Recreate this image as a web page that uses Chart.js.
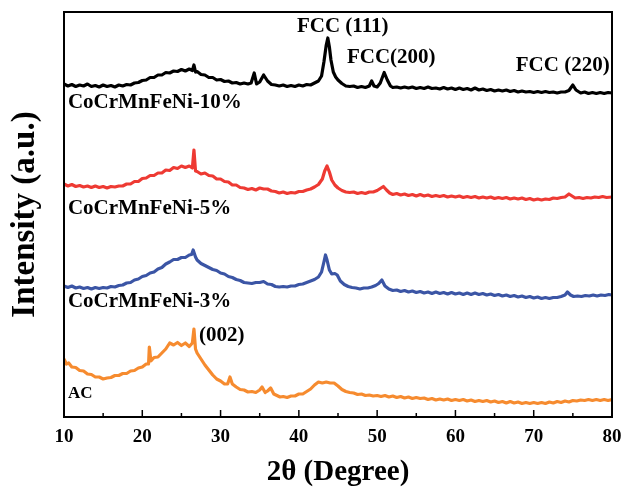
<!DOCTYPE html>
<html>
<head>
<meta charset="utf-8">
<script src="https://cdn.jsdelivr.net/npm/chart.js@4.4.1/dist/chart.umd.min.js"></script>
<style>
    html, body { margin: 0; padding: 0; background: #fff; }
    #wrap { width: 622px; height: 488px; }
</style>
</head>
<body>
<div id="wrap"><canvas id="xrdChart" width="622" height="488"></canvas></div>
<script>
// XRD patterns, [2theta, intensity (a.u., curves stacked)]
const sampleNames = ['CoCrMnFeNi-10%', 'CoCrMnFeNi-5%', 'CoCrMnFeNi-3%', 'AC'];
const sampleColors = ['#000000', '#ee3a33', '#3b55a5', '#f68b2f'];

const xrd10 = [
    [10.0,333],[10.5,331],[11.0,332.5],[11.5,330.5],[12.0,332],[12.5,331],[13.0,333],[13.5,330.5],[14.0,331.5],[14.5,330],
    [15.0,332],[15.5,330.5],[16.0,331.5],[16.5,330],[17.0,332],[17.5,331],[18.0,332.5],[18.5,332],[19.0,334],[19.5,334.5],
    [20.0,336.5],[20.5,337],[21.0,339.5],[21.5,339.5],[22.0,342],[22.5,342],[23.0,344.5],[23.5,344],[24.0,346],[24.5,345.5],
    [25.0,347.5],[25.5,346],[26.0,348],[26.4,346.5],[26.6,352],[26.8,345],[27.0,345.5],[27.5,342.5],[28.0,342],[28.5,339.5],
    [29.0,339.5],[29.5,337],[30.0,337.5],[30.5,335.5],[31.0,336],[31.5,334],[32.0,334.5],[32.5,333],[33.0,334],[33.5,333],
    [33.9,334],[34.3,344],[34.6,333],[35.0,335],[35.5,342],[36.0,336],[36.5,332.5],[37.0,332],[37.5,331],[38.0,332],
    [38.5,330.5],[39.0,331.5],[39.5,330.5],[40.0,332],[40.5,331],[41.0,332.5],[41.5,332],[42.0,334],[42.5,336],[42.9,341],
    [43.2,355],[43.5,372],[43.7,379],[43.9,370],[44.1,357],[44.4,345],[44.7,340],[45.0,337],[45.5,333.5],[46.0,331],
    [46.5,330.5],[47.0,331],[47.5,329.5],[48.0,330.5],[48.5,329.5],[49.0,331],[49.3,336],[49.6,331],[50.0,330],[50.4,334],
    [50.9,344.5],[51.3,337],[51.7,331],[52.0,329.5],[52.5,330],[53.0,329],[53.5,330],[54.0,329],[54.5,330],[55.0,328.5],
    [55.5,329.5],[56.0,328.5],[56.5,330],[57.0,328.5],[57.5,329],[58.0,328],[58.5,329.5],[59.0,328],[59.5,329],[60.0,327.5],
    [60.5,329],[61.0,327.5],[61.5,328.5],[62.0,327],[62.5,329],[63.0,327],[63.5,328],[64.0,326.5],[64.5,327.5],[65.0,326],
    [65.5,327],[66.0,326],[66.5,327],[67.0,325.5],[67.5,326.5],[68.0,325],[68.5,326],[69.0,325],[69.5,325.5],[70.0,324.5],
    [70.5,325.5],[71.0,324.5],[71.5,325.5],[72.0,324.5],[72.5,325],[73.0,324],[73.5,325],[74.0,325],[74.5,326.5],[75.0,332],
    [75.4,327],[75.8,325],[76.0,324],[76.5,325],[77.0,323.5],[77.5,324.5],[78.0,323.5],[78.5,324.5],[79.0,323.5],[79.5,324.5],
    [80.0,324]
];

const xrd5 = [
    [10.0,233],[10.5,231],[11.0,232.5],[11.5,230.5],[12.0,231.5],[12.5,230],[13.0,231],[13.5,229.5],[14.0,231],[14.5,229.5],
    [15.0,230.5],[15.5,229],[16.0,230.5],[16.5,230],[17.0,231],[17.5,231],[18.0,233],[18.5,233],[19.0,235.5],[19.5,235.5],
    [20.0,238.5],[20.5,239],[21.0,241.5],[21.5,241.5],[22.0,244],[22.5,244],[23.0,247],[23.5,246.5],[24.0,249.5],[24.5,248.5],
    [25.0,251],[25.5,249.5],[26.0,251],[26.4,249],[26.6,267],[26.8,246],[27.0,245.5],[27.5,243],[28.0,244],[28.5,241.5],
    [29.0,241],[29.5,238],[30.0,238],[30.5,235.5],[31.0,235],[31.5,232],[32.0,232],[32.5,229.5],[33.0,229],[33.5,227.5],
    [34.0,228.5],[34.5,227],[35.0,229],[35.5,228],[36.0,228],[36.5,226],[37.0,225.5],[37.5,224],[38.0,225],[38.5,223.5],
    [39.0,224.5],[39.5,224],[40.0,225.5],[40.5,225.5],[41.0,227],[41.5,228],[42.0,230],[42.5,232.5],[43.0,238],[43.3,246],
    [43.6,251],[43.9,245],[44.2,237],[44.6,232],[45.0,229],[45.5,226.5],[46.0,225],[46.5,224.5],[47.0,225],[47.5,223.5],
    [48.0,224.5],[48.5,223.5],[49.0,225],[49.5,225],[50.0,226.5],[50.5,229],[50.8,230.5],[51.2,227],[51.6,224],[52.0,222.5],
    [52.5,223.5],[53.0,222],[53.5,223],[54.0,221.5],[54.5,222.5],[55.0,221],[55.5,222.5],[56.0,221],[56.5,222],[57.0,220.5],
    [57.5,221.5],[58.0,220.5],[58.5,221.5],[59.0,220],[59.5,221],[60.0,220],[60.5,221],[61.0,219.5],[61.5,220.5],[62.0,219.5],
    [62.5,220.5],[63.0,219],[63.5,220],[64.0,219],[64.5,220],[65.0,218.5],[65.5,219.5],[66.0,218.5],[66.5,219.5],[67.0,218],
    [67.5,219],[68.0,218],[68.5,219],[69.0,217.5],[69.5,218.5],[70.0,217],[70.5,218],[71.0,217],[71.5,218],[72.0,217.5],
    [72.5,219],[73.0,218.5],[73.5,219.5],[74.0,220],[74.5,223],[74.9,221],[75.3,219],[75.8,219.5],[76.3,218.5],[76.8,219.5],
    [77.3,219],[77.8,220],[78.3,219.5],[78.8,220.5],[79.3,219.5],[80.0,220]
];

const xrd3 = [
    [10.0,131],[10.5,129.5],[11.0,131],[11.5,129],[12.0,130],[12.5,128.5],[13.0,129.5],[13.5,128],[14.0,129.5],[14.5,128.5],
    [15.0,129.5],[15.5,129],[16.0,130.5],[16.5,130],[17.0,131.5],[17.5,132],[18.0,134],[18.5,134.5],[19.0,137],[19.5,138],
    [20.0,140.5],[20.5,141.5],[21.0,144],[21.5,145],[22.0,148],[22.5,149.5],[23.0,153],[23.5,155],[24.0,157.5],[24.5,157.5],
    [25.0,159.5],[25.5,159.5],[26.0,162],[26.3,162.5],[26.5,167],[26.8,160],[27.0,157],[27.5,153.5],[28.0,151.5],[28.5,149.5],
    [29.0,147.5],[29.5,146.5],[30.0,144],[30.5,143],[31.0,140.5],[31.5,139.5],[32.0,137.5],[32.5,136.5],[33.0,134.5],[33.5,134],
    [34.0,133.5],[34.5,134.5],[35.0,134.5],[35.5,135.5],[36.0,133],[36.5,132.5],[37.0,130.5],[37.5,130],[38.0,130.5],[38.5,130],
    [39.0,131],[39.5,131],[40.0,132.5],[40.5,133],[41.0,134.5],[41.5,136],[42.0,137.5],[42.5,140],[42.9,145],[43.2,155],
    [43.4,162],[43.6,157],[43.9,147],[44.2,143],[44.6,143.5],[44.9,142],[45.3,136],[45.8,132.5],[46.3,130.5],[46.8,129.5],
    [47.3,129],[47.8,128],[48.3,129],[48.8,129],[49.3,130],[49.8,131.5],[50.2,133.5],[50.6,137],[51.0,131],[51.5,128],
    [52.0,126.5],[52.5,127],[53.0,125.5],[53.5,126.5],[54.0,125],[54.5,126],[55.0,124.5],[55.5,125.5],[56.0,124],[56.5,125],
    [57.0,123.5],[57.5,125],[58.0,123.5],[58.5,124.5],[59.0,123],[59.5,124.5],[60.0,123],[60.5,124],[61.0,122.5],[61.5,124],
    [62.0,122.5],[62.5,124],[63.0,122.5],[63.5,123.5],[64.0,122],[64.5,123],[65.0,121.5],[65.5,122.5],[66.0,121],[66.5,122],
    [67.0,120.5],[67.5,121.5],[68.0,120],[68.5,121],[69.0,119.5],[69.5,120.5],[70.0,119],[70.5,120],[71.0,118.5],[71.5,119.5],
    [72.0,118.5],[72.5,119.5],[73.0,119.5],[73.5,120.5],[74.0,122],[74.3,125],[74.7,122],[75.1,120.5],[75.6,121],[76.1,120.5],
    [76.6,121.5],[77.1,121],[77.6,122],[78.1,121],[78.6,122],[79.1,121.5],[79.6,122.5],[80.0,122]
];

const xrdAC = [
    [10.0,58],[10.3,53],[10.6,54],[11.0,50],[11.5,49.5],[12.0,46.5],[12.5,46],[13.0,43],[13.5,42.5],[14.0,40],
    [14.5,40],[15.0,38],[15.5,39],[16.0,39.5],[16.5,41.5],[17.0,41.5],[17.5,43.5],[18.0,43.5],[18.5,46],[19.0,46.5],
    [19.5,49],[20.0,50],[20.5,53],[20.8,53],[20.9,70],[21.1,56],[21.5,59.5],[22.0,60],[22.5,64],[23.0,68],
    [23.5,74],[24.0,72],[24.5,74.5],[25.0,71.5],[25.5,74],[26.0,70.5],[26.4,74],[26.6,88],[26.8,68],[27.0,64],
    [27.5,58],[28.0,52],[28.5,47],[29.0,42],[29.5,38],[30.0,36],[30.5,33],[30.9,33],[31.2,40],[31.5,33],
    [32.0,30],[32.5,27.5],[33.0,27],[33.5,25],[34.0,25.5],[34.5,24.5],[35.0,27],[35.3,30],[35.7,24.5],[36.0,26],
    [36.4,29],[36.8,23],[37.2,21.5],[37.6,20],[38.0,20.5],[38.5,19.5],[39.0,21],[39.5,21],[40.0,23],[40.5,23],
    [41.0,25.5],[41.5,28],[42.0,32],[42.5,35],[43.0,34],[43.5,35],[44.0,34],[44.5,34],[45.0,31],[45.5,27.5],
    [46.0,25.5],[46.5,24.5],[47.0,24],[47.5,22.5],[48.0,23],[48.5,21.5],[49.0,22],[49.5,21],[50.0,21.5],[50.5,20.5],
    [51.0,21.5],[51.5,20],[52.0,21],[52.5,19.5],[53.0,20.5],[53.5,19],[54.0,20],[54.5,18.5],[55.0,19.5],[55.5,18.5],
    [56.0,19],[56.5,17.5],[57.0,18.5],[57.5,17],[58.0,18],[58.5,17],[59.0,18],[59.5,16.5],[60.0,17.5],[60.5,16.5],
    [61.0,17.5],[61.5,16],[62.0,17],[62.5,15.5],[63.0,16.5],[63.5,15.5],[64.0,16.5],[64.5,15],[65.0,16],[65.5,14.5],
    [66.0,15.5],[66.5,14],[67.0,15.5],[67.5,14],[68.0,15],[68.5,13.5],[69.0,14.5],[69.5,13.5],[70.0,14.5],[70.5,13.5],
    [71.0,14.5],[71.5,13.5],[72.0,15],[72.5,14],[73.0,15.5],[73.5,14.5],[74.0,16],[74.5,15],[75.0,16.5],[75.5,16],
    [76.0,17],[76.5,16.5],[77.0,17.5],[77.5,16.5],[78.0,17.5],[78.5,16.5],[79.0,17.5],[79.5,16.5],[80.0,17.5]
];

const xTicks = [10, 20, 30, 40, 50, 60, 70, 80];

// peak / sample labels: [text, 2theta, intensity, align, size]
const annotations = [
    ['FCC (111)', 45.6, 390, 'center', 21],
    ['FCC(200)', 51.8, 359, 'center', 21],
    ['FCC (220)', 73.7, 351, 'center', 21],
    ['(002)', 27.25, 81, 'left', 21],
    ['CoCrMnFeNi-10%', 10.5, 314, 'left', 21],
    ['CoCrMnFeNi-5%', 10.5, 208, 'left', 21],
    ['CoCrMnFeNi-3%', 10.5, 115, 'left', 21],
    ['AC', 10.5, 23, 'left', 17]
];

const serif = "'Liberation Serif', 'Times New Roman', serif";

function toPoints(rows) {
    return rows.map(r => ({ x: r[0], y: r[1] }));
}

// frame, inward ticks and text labels
const framePlugin = {
    id: 'framePlugin',
    afterDraw(chart) {
        const ctx = chart.ctx;
        const area = chart.chartArea;
        const xs = chart.scales.x;
        const ys = chart.scales.y;
        ctx.save();
        ctx.strokeStyle = '#000';
        ctx.lineWidth = 1.5;
        for (let v = 15; v < 80; v += 5) {
            const px = xs.getPixelForValue(v);
            const len = v % 10 === 0 ? 7 : 4;
            ctx.beginPath();
            ctx.moveTo(px, area.bottom);
            ctx.lineTo(px, area.bottom - len);
            ctx.stroke();
        }
        ctx.lineWidth = 2;
        ctx.strokeRect(area.left, area.top, area.right - area.left, area.bottom - area.top);

        ctx.fillStyle = '#000';
        ctx.textBaseline = 'middle';
        annotations.forEach(a => {
            ctx.font = 'bold ' + a[4] + 'px ' + serif;
            ctx.textAlign = a[3];
            ctx.fillText(a[0], xs.getPixelForValue(a[1]), ys.getPixelForValue(a[2]));
        });
        ctx.restore();
    }
};

const allSeries = [xrd10, xrd5, xrd3, xrdAC];

const ctx = document.getElementById('xrdChart').getContext('2d');
const chart = new Chart(ctx, {
    type: 'line',
    data: {
        datasets: allSeries.map((rows, i) => ({
            label: sampleNames[i],
            data: toPoints(rows),
            borderColor: sampleColors[i],
            borderWidth: 3.2,
            borderJoinStyle: 'round',
            pointRadius: 0,
            tension: 0,
            fill: false
        }))
    },
    options: {
        responsive: false,
        animation: false,
        devicePixelRatio: 1,
        layout: { padding: { top: 12, right: 10, left: 0, bottom: 0 } },
        plugins: {
            legend: { display: false },
            tooltip: { enabled: false }
        },
        scales: {
            x: {
                type: 'linear',
                min: 10,
                max: 80,
                afterBuildTicks: scale => { scale.ticks = xTicks.map(v => ({ value: v })); },
                afterFit: scale => {
                    scale.height = 71;
                    scale.paddingLeft = 0;
                    scale.paddingRight = 0;
                },
                grid: { display: false, drawTicks: false },
                border: { display: false },
                ticks: {
                    color: '#000',
                    padding: 9,
                    maxRotation: 0,
                    font: { family: serif, weight: 'bold', size: 19 }
                },
                title: {
                    display: true,
                    text: '2θ (Degree)',
                    color: '#000',
                    padding: { bottom: 1 },
                    font: { family: serif, weight: 'bold', size: 29, lineHeight: 1 }
                }
            },
            y: {
                min: 0,
                max: 405,
                afterFit: scale => {
                    scale.width = 64;
                    scale.paddingTop = 0;
                    scale.paddingBottom = 0;
                },
                grid: { display: false, drawTicks: false },
                border: { display: false },
                ticks: { display: false },
                title: {
                    display: true,
                    text: 'Intensity (a.u.)',
                    color: '#000',
                    padding: { top: 6 },
                    font: { family: serif, weight: 'bold', size: 33 }
                }
            }
        }
    },
    plugins: [framePlugin]
});
</script>
</body>
</html>
